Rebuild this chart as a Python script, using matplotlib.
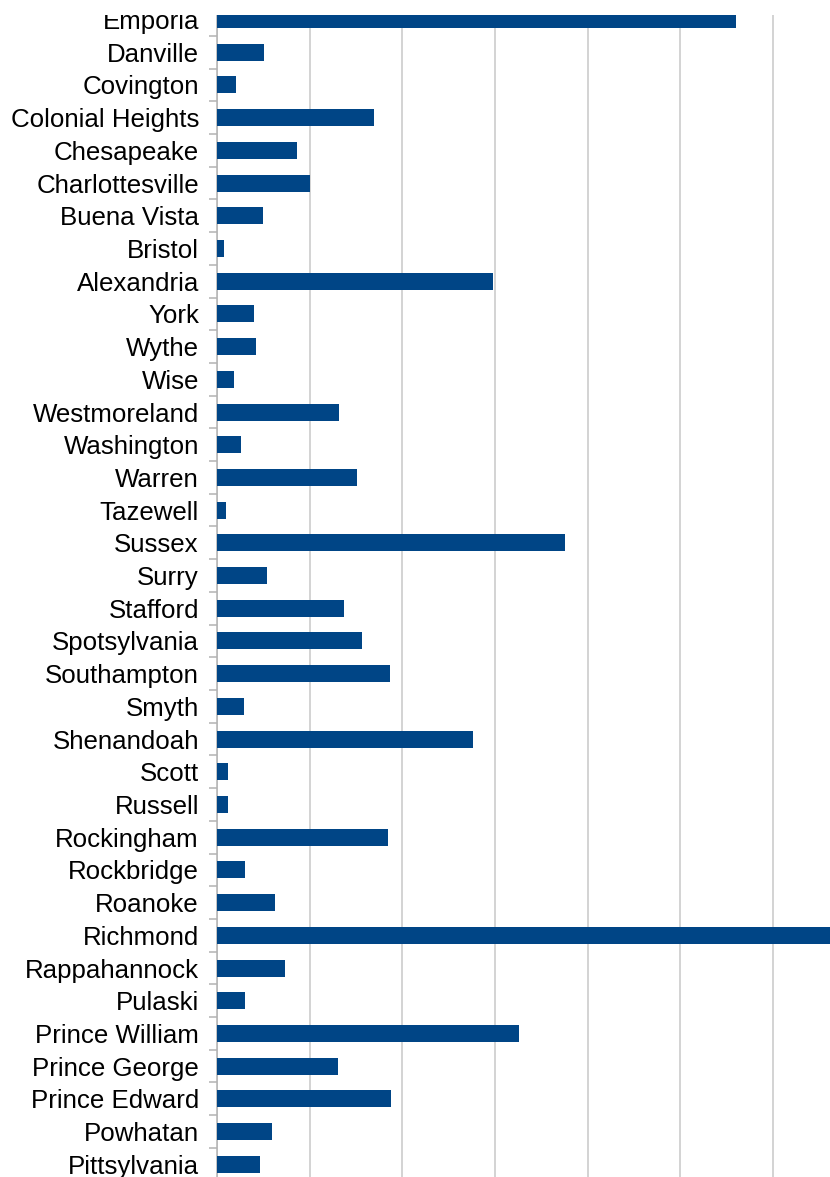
import matplotlib
matplotlib.use("Agg")
import matplotlib.pyplot as plt
from matplotlib.patches import Rectangle
import numpy as np

plt.rcParams['font.family'] = ['Liberation Sans', 'DejaVu Sans']

categories = ["Emporia", "Danville", "Covington", "Colonial Heights", "Chesapeake",
              "Charlottesville", "Buena Vista", "Bristol", "Alexandria", "York",
              "Wythe", "Wise", "Westmoreland", "Washington", "Warren", "Tazewell",
              "Sussex", "Surry", "Stafford", "Spotsylvania", "Southampton", "Smyth",
              "Shenandoah", "Scott", "Russell", "Rockingham", "Rockbridge", "Roanoke",
              "Richmond", "Rappahannock", "Pulaski", "Prince William", "Prince George",
              "Prince Edward", "Powhatan", "Pittsylvania"]
values = [56.0, 5.1, 2.05, 16.9, 8.6,
          10.0, 5.0, 0.76, 29.8, 4.0,
          4.2, 1.8, 13.2, 2.6, 15.1, 0.97,
          37.5, 5.4, 13.7, 15.6, 18.7, 2.9,
          27.6, 1.2, 1.2, 18.4, 3.0, 6.3,
          70.0, 7.3, 3.0, 32.6, 13.1,
          18.8, 5.9, 4.6]
grid_ticks = [0, 10, 20, 30, 40, 50, 60]

W, H = 830, 1177
fig = plt.figure(figsize=(W / 100, H / 100), dpi=100)

x0 = 217
top_band = 3.2
bot_band = 1180.6
ax = fig.add_axes([x0 / W, 1 - bot_band / H, (W - x0) / W, (bot_band - top_band) / H])

n = len(categories)
y = np.arange(n)
ax.barh(y, values, height=0.52, color="#004586", zorder=3)

px_per_unit = 92.67 / 10
ax.set_xlim(0, (W - x0) / px_per_unit)
ax.set_ylim(n - 0.5, -0.5)

ax.set_xticks(grid_ticks)
ax.tick_params(axis='x', length=0, labelbottom=False)
ax.grid(axis='x', color="#c8c8c8", linewidth=1.1, zorder=0)

ax.set_yticks(y)
ax.set_yticklabels(categories, fontsize=18.6, color="#000000")
ax.tick_params(axis='y', which='major', length=0, pad=13)
ax.set_yticks(np.arange(-0.5, n, 1.0), minor=True)
ax.tick_params(axis='y', which='minor', length=5.5, width=1.1, color="#b3b3b3")

for s in ['top', 'right', 'bottom']:
    ax.spines[s].set_visible(False)
ax.spines['left'].set_color("#b3b3b3")
ax.spines['left'].set_linewidth(1.1)

# white band clipping the top of the view
fig.add_artist(Rectangle((0, 1 - 15 / H), 1, 15 / H, transform=fig.transFigure,
                         facecolor="white", edgecolor="none", zorder=10))

fig.savefig("out.png", dpi=100)
